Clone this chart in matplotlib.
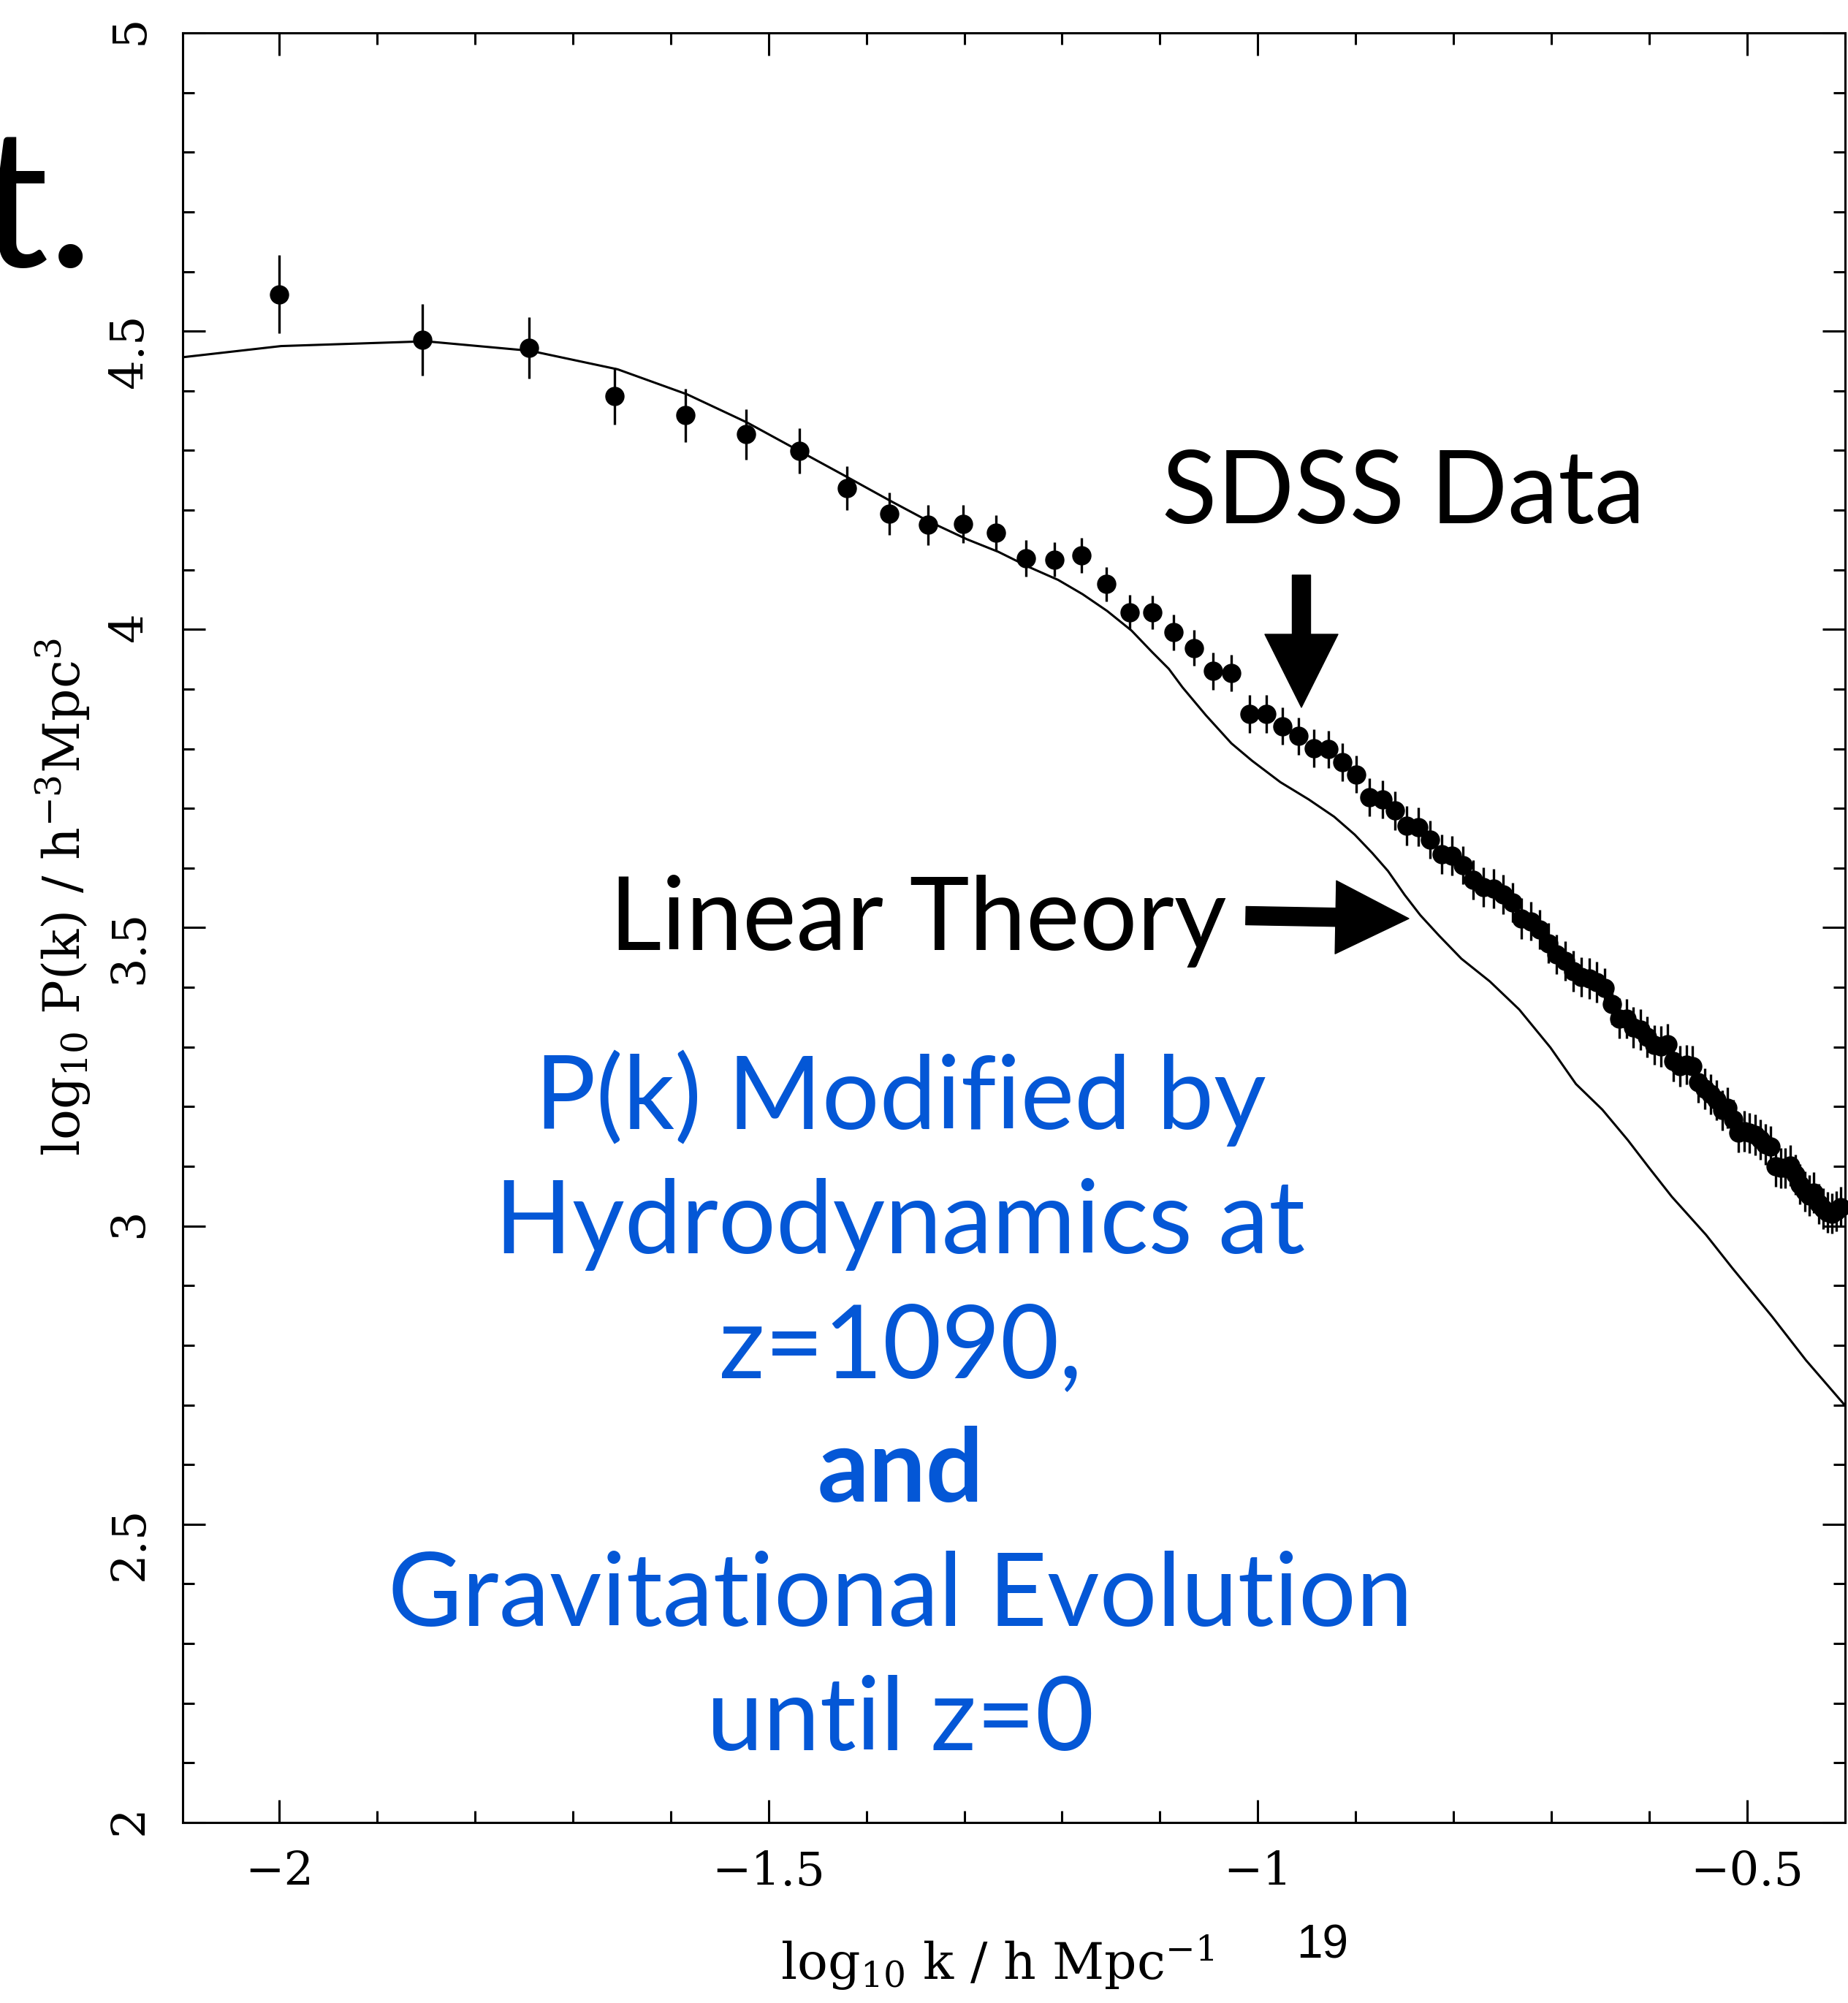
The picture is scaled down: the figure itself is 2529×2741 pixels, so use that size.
import numpy as np
import matplotlib.pyplot as plt
from matplotlib.ticker import MultipleLocator, FixedLocator, FuncFormatter

W, H = 2529, 2741

# SDSS band powers (k in h/Mpc, log10 P, 1-sigma error in log10 P)
k_data = [0.010, 0.014, 0.018, 0.022, 0.026, 0.030, 0.034, 0.038, 0.042, 0.046,
          0.050, 0.054, 0.058, 0.062, 0.066, 0.070, 0.074, 0.078, 0.082, 0.086,
          0.090, 0.094, 0.098, 0.102, 0.106, 0.110, 0.114, 0.118, 0.122, 0.126,
          0.130, 0.134, 0.138, 0.142, 0.146, 0.150, 0.154, 0.158, 0.162, 0.166,
          0.170, 0.174, 0.178, 0.182, 0.186, 0.190, 0.194, 0.198, 0.202, 0.206,
          0.210, 0.214, 0.218, 0.222, 0.226, 0.230, 0.234, 0.238, 0.242, 0.246,
          0.250, 0.254, 0.258, 0.262, 0.266, 0.270, 0.274, 0.278, 0.282, 0.286,
          0.290, 0.294, 0.298, 0.302, 0.306, 0.310, 0.314, 0.318, 0.322, 0.326,
          0.330, 0.334, 0.338, 0.342, 0.346, 0.350, 0.354, 0.358, 0.362, 0.366,
          0.370, 0.374, 0.378, 0.382, 0.386, 0.390, 0.394]
logp_data = [4.562, 4.485, 4.472, 4.391, 4.359, 4.327, 4.299, 4.237, 4.194, 4.175,
             4.177, 4.162, 4.119, 4.117, 4.124, 4.076, 4.029, 4.029, 3.995, 3.969,
             3.930, 3.927, 3.858, 3.858, 3.838, 3.821, 3.801, 3.799, 3.777, 3.757,
             3.719, 3.715, 3.696, 3.671, 3.669, 3.648, 3.623, 3.621, 3.605, 3.580,
             3.568, 3.566, 3.556, 3.542, 3.515, 3.511, 3.497, 3.474, 3.455, 3.444,
             3.427, 3.417, 3.415, 3.409, 3.399, 3.372, 3.348, 3.348, 3.333, 3.329,
             3.317, 3.303, 3.301, 3.305, 3.276, 3.268, 3.270, 3.268, 3.241, 3.230,
             3.221, 3.211, 3.194, 3.198, 3.178, 3.157, 3.159, 3.156, 3.153, 3.145,
             3.137, 3.133, 3.100, 3.097, 3.097, 3.101, 3.086, 3.070, 3.058, 3.051,
             3.056, 3.037, 3.029, 3.023, 3.021, 3.025, 3.032]
logp_err = [0.065, 0.060, 0.051, 0.048, 0.045, 0.042, 0.038, 0.037, 0.036, 0.034,
            0.032, 0.030, 0.031, 0.029, 0.029, 0.029, 0.029, 0.028, 0.030, 0.030,
            0.031, 0.031, 0.032, 0.032, 0.031, 0.031, 0.032, 0.031, 0.032, 0.031,
            0.032, 0.032, 0.032, 0.033, 0.032, 0.032, 0.033, 0.033, 0.032, 0.033,
            0.033, 0.033, 0.033, 0.033, 0.034, 0.033, 0.033, 0.034, 0.033, 0.033,
            0.034, 0.033, 0.034, 0.034, 0.033, 0.034, 0.034, 0.033, 0.034, 0.034,
            0.034, 0.033, 0.034, 0.034, 0.034, 0.034, 0.033, 0.034, 0.034, 0.034,
            0.034, 0.034, 0.034, 0.034, 0.034, 0.034, 0.034, 0.034, 0.034, 0.034,
            0.034, 0.034, 0.034, 0.034, 0.034, 0.034, 0.034, 0.034, 0.034, 0.034,
            0.034, 0.034, 0.034, 0.034, 0.034, 0.034, 0.034]

# linear theory curve
theory_logk = [-2.100, -1.998, -1.850, -1.743, -1.654, -1.583, -1.522, -1.465, -1.418,
               -1.376, -1.336, -1.297, -1.265, -1.233, -1.204, -1.179, -1.154, -1.129,
               -1.108, -1.091, -1.077, -1.053, -1.027, -1.006, -0.977, -0.948, -0.922,
               -0.901, -0.883, -0.867, -0.850, -0.834, -0.815, -0.792, -0.763, -0.733,
               -0.701, -0.675, -0.648, -0.622, -0.600, -0.577, -0.542, -0.515, -0.475,
               -0.440, -0.400]
theory_logp = [4.456, 4.475, 4.483, 4.467, 4.436, 4.394, 4.347, 4.296, 4.254,
               4.216, 4.181, 4.151, 4.130, 4.104, 4.083, 4.059, 4.031, 3.998,
               3.962, 3.934, 3.903, 3.856, 3.809, 3.780, 3.744, 3.715, 3.686,
               3.656, 3.625, 3.595, 3.555, 3.521, 3.487, 3.448, 3.410, 3.363,
               3.299, 3.238, 3.195, 3.144, 3.097, 3.049, 2.985, 2.929, 2.849,
               2.775, 2.699]

x_ticks = [-2, -1.5, -1, -0.5]
y_ticks = [2, 2.5, 3, 3.5, 4, 4.5, 5]

blue_lines = ["P(k) Modified by", "Hydrodynamics at", "z=1090,", "and",
              "Gravitational Evolution", "until z=0"]
BLUE = "#0457d6"

plt.rcParams['font.family'] = ['DejaVu Serif']
plt.rcParams['mathtext.fontset'] = 'dejavuserif'

fig = plt.figure(figsize=(W / 100, H / 100), dpi=100)
ax = fig.add_axes([250 / W, 1 - 2494 / H, 2275 / W, 2449 / H])

ax.plot(theory_logk, theory_logp, color='k', lw=2.2, zorder=2)
ax.errorbar(np.log10(k_data), logp_data, yerr=logp_err, fmt='o', color='k',
            ms=18, elinewidth=2.4, capsize=0, zorder=3, clip_on=False)

ax.set_xlim(-2.0985, -0.40)
ax.set_ylim(2, 5)

ax.xaxis.set_major_locator(FixedLocator(x_ticks))
ax.yaxis.set_major_locator(FixedLocator(y_ticks))
ax.xaxis.set_minor_locator(MultipleLocator(0.1))
ax.yaxis.set_minor_locator(MultipleLocator(0.1))
fmt = FuncFormatter(lambda v, p: '{:g}'.format(v).replace('-', '\u2212'))
ax.xaxis.set_major_formatter(fmt)
ax.yaxis.set_major_formatter(fmt)

ax.tick_params(which='both', direction='in', top=True, right=True, width=2.2)
ax.tick_params(which='major', length=22, labelsize=46)
ax.tick_params(which='minor', length=11.5)
ax.tick_params(axis='x', pad=27)
ax.tick_params(axis='y', pad=30, labelrotation=90)
for s in ax.spines.values():
    s.set_linewidth(2.2)

ax.set_xlabel(r'log$_{10}$ k / h Mpc$^{-1}$', fontsize=50)
ax.set_ylabel(r'log$_{10}$ P(k) / h$^{-3}$Mpc$^{3}$', fontsize=50)
ax.xaxis.set_label_coords(0.49, -0.062)
ax.yaxis.set_label_coords(-0.054, 0.517)


def fx(px):
    return px / W


def fy(py):
    return 1 - py / H


# slide remnants (title is cut by the left edge in the original)
fig.text(fx(128), fy(365), 't.', family='Lato', fontsize=190, ha='right', va='baseline')
fig.text(fx(1810), fy(2680), '19', family='Liberation Sans', fontsize=46,
         ha='center', va='baseline')

# annotations
fig.text(fx(1590), fy(716), 'SDSS Data', family='Lato', fontsize=100,
         ha='left', va='baseline')
fig.text(fx(1678), fy(1300), 'Linear Theory', family='Lato', fontsize=100,
         ha='right', va='baseline')
arrow = dict(arrowstyle='simple,head_length=1.0,head_width=1.0,tail_width=0.25',
             color='k', mutation_scale=72, shrinkA=0, shrinkB=0)
ax.annotate('', xy=(fx(1781), fy(968)), xytext=(fx(1781), fy(787)),
            xycoords='figure fraction', textcoords='figure fraction', arrowprops=arrow)
ax.annotate('', xy=(fx(1928), fy(1257)), xytext=(fx(1705), fy(1253)),
            xycoords='figure fraction', textcoords='figure fraction', arrowprops=arrow)

baselines = [1545, 1715, 1885, 2055, 2225, 2395]
for line, b in zip(blue_lines, baselines):
    fig.text(fx(1232), fy(b), line, family='Lato', fontsize=100, color=BLUE,
             ha='center', va='baseline',
             fontweight='bold' if line == 'and' else 'normal')

fig.savefig('out.png', dpi=100, facecolor='white')
